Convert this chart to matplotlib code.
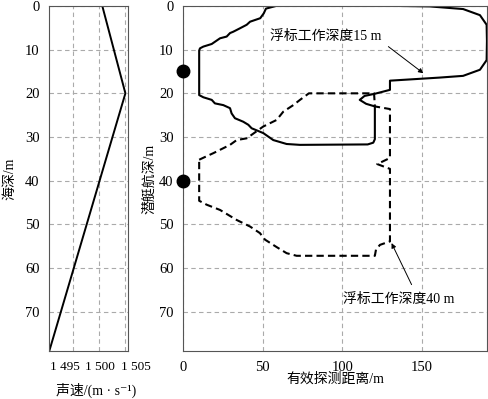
import matplotlib.pyplot as plt
from matplotlib.transforms import ScaledTranslation

plt.rcParams['font.family'] = ['Liberation Serif', 'Noto Sans CJK SC', 'DejaVu Serif']

# 声速剖面
depth_ssp = [0, 20, 79]
speed_ssp = [1500.6, 1505.0, 1490.5]

# 浮标工作深度 15 m 的有效探测距离包络（距离, 深度）
r15 = [58.3, 52.0, 50.6, 48.4, 42.0, 39.9, 35.7, 31.4, 29.4, 27.3, 23.1, 19.9, 17.9,
       12.6, 10.5, 10.0, 10.0, 12.6, 17.9, 19.9, 25.2, 29.4, 30.4, 32.5, 37.7, 40.9,
       43.0, 50.3, 56.6, 65.0, 73.4, 116.0, 119.5, 120.5, 120.5, 115.0, 111.0, 114.0,
       120.5, 130.0, 130.0, 161.0, 176.0, 186.6, 190.8, 191.0, 190.8, 186.6, 176.0,
       155.0, 136.5]
d15 = [0.0, 0.6, 1.7, 2.8, 3.6, 4.3, 5.1, 5.9, 6.2, 7.0, 7.4, 8.2, 8.7,
       9.3, 9.7, 10.2, 20.4, 20.9, 21.5, 22.3, 22.7, 23.4, 24.6, 25.7, 26.5, 27.2,
       28.0, 29.1, 30.7, 31.6, 31.8, 31.7, 31.3, 30.5, 23.0, 22.4, 21.5, 20.6,
       20.1, 19.2, 17.1, 16.4, 16.0, 14.6, 12.4, 8.0, 4.3, 2.1, 0.7,
       0.1, 0.0]

# 浮标工作深度 40 m 的有效探测距离包络（距离, 深度）
r40 = [10.0, 14.7, 18.9, 29.4, 33.6, 39.9, 50.3, 58.7, 62.9, 69.2, 73.4, 79.0,
       120.0, 120.5, 130.0, 130.0, 122.0, 130.0, 130.0, 123.7, 121.2, 120.5,
       71.3, 65.0, 58.7, 51.4, 48.2, 42.0, 33.6, 23.1, 14.7, 10.0, 10.0]
d40 = [35.2, 34.4, 33.7, 31.8, 30.7, 30.3, 27.6, 26.1, 24.2, 22.7, 21.5, 20.0,
       20.0, 23.0, 23.6, 34.8, 36.2, 37.3, 53.9, 54.7, 55.8, 57.2,
       57.2, 56.6, 55.2, 53.5, 52.0, 50.5, 49.0, 46.7, 45.5, 44.6, 35.2]

buoy_depths = [15, 40]

depth_ticks = [0, 10, 20, 30, 40, 50, 60, 70]
speed_ticks = [1495, 1500, 1505]
speed_labels = ['1 495', '1 500', '1 505']
range_ticks = [0, 50, 100, 150]

fig = plt.figure(figsize=(4.89, 3.99), dpi=100)
ax1 = fig.add_axes([0.1008, 0.1203, 0.161, 0.8647])
ax2 = fig.add_axes([0.3748, 0.1203, 0.621, 0.8647])

grid_kw = dict(color='#aaaaaa', linestyle=(0, (4, 3)), linewidth=0.8)

for ax in (ax1, ax2):
    ax.set_ylim(79, 0)
    ax.set_yticks(depth_ticks)
    ax.grid(True, **grid_kw)
    ax.set_axisbelow(True)
    ax.tick_params(length=0, labelsize=10.5, pad=7)
    for s in ax.spines.values():
        s.set_color('#555555')
        s.set_linewidth(0.8)

# 左图：声速剖面
ax1.plot(speed_ssp, depth_ssp, color='black', linewidth=1.4)
ax1.set_xlim(1490.5, 1505.5)
ax1.set_xticks(speed_ticks, speed_labels)
ax1.tick_params(axis='x', labelsize=9.5)
# 刻度标签挤在一起，稍微错开
for lab, dx in zip(ax1.get_xticklabels(), [-8, 1, 10]):
    lab.set_transform(lab.get_transform() + ScaledTranslation(dx / 100, 0, fig.dpi_scale_trans))
ax1.set_xlabel('声速/(m · s⁻¹)', fontsize=10)
ax1.xaxis.set_label_coords(0.6, -0.093)
ax1.set_ylabel('海深/m', fontsize=10)
ax1.yaxis.set_label_coords(-0.42, 0.5)

# 右图：有效探测距离
ax2.plot(r15, d15, color='black', linewidth=1.5)
ax2.plot(r40, d40, color='black', linewidth=1.5, linestyle=(0, (3.5, 2)))
ax2.plot([0] * len(buoy_depths), buoy_depths, 'o', color='black',
         markersize=9, clip_on=False, zorder=5)
ax2.set_xlim(0, 191)
ax2.set_xticks(range_ticks)
ax2.set_xlabel('有效探测距离/m', fontsize=10)
ax2.xaxis.set_label_coords(0.5, -0.063)
ax2.set_ylabel('潜艇航深/m', fontsize=10)
ax2.yaxis.set_label_coords(-0.09, 0.5)

arrow_kw = dict(arrowstyle='-|>', color='black', lw=0.7,
                mutation_scale=7, shrinkA=0, shrinkB=0)
ax2.text(54.5, 7.0, '浮标工作深度15 m', fontsize=10, va='center', ha='left')
ax2.annotate('', xy=(151, 15.4), xytext=(129, 9.3), arrowprops=arrow_kw)
ax2.text(100.3, 67.1, '浮标工作深度40 m', fontsize=10, va='center', ha='left')
ax2.annotate('', xy=(131, 54.3), xytext=(143.6, 63.8), arrowprops=arrow_kw)

fig.savefig('out.png', dpi=100)
